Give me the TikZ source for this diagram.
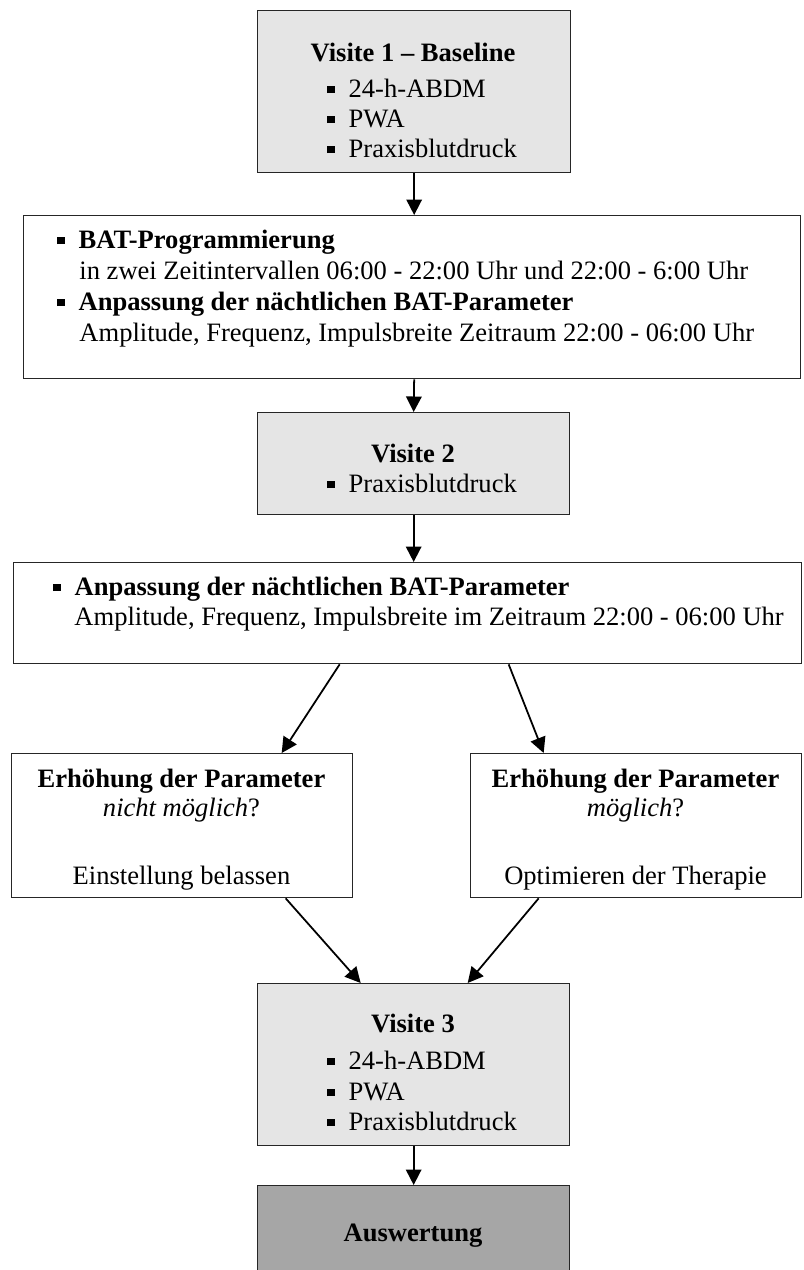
\documentclass[tikz,border=0pt]{standalone}
\usepackage{fontspec}
\setmainfont{Liberation Serif}
\usetikzlibrary{arrows.meta, calc, positioning}

% one picture unit = one pixel of the reference
\newcommand{\pxu}{0.452pt}
\newcommand{\sqbul}{\raisebox{1.8pt}{\rule{3.2pt}{3.2pt}}\hspace{6.4pt}}

\tikzset{
  box/.style={draw=black!85, line width=0.6pt, inner sep=0pt, anchor=north west},
  visit/.style={box, fill=black!10},
  final/.style={box, fill=black!35},
  lbl/.style={inner sep=0pt, anchor=base},
  item/.style={inner sep=0pt, anchor=base west},
  arr/.style={-{Triangle[length=7pt,width=7pt]}, line width=0.8pt},
  every node/.style={font=\fontsize{12}{13.6}\selectfont}
}

\begin{document}
\begin{tikzpicture}[x=\pxu, y=-\pxu]
\useasboundingbox (0,0) rectangle (803,1270);

% Boxes
\node[visit, minimum width=313*\pxu, minimum height=162*\pxu] (b1) at (257,10) {};
\node[box, minimum width=777*\pxu, minimum height=163*\pxu] (b2) at (23,215) {};
\node[visit, minimum width=312*\pxu, minimum height=102*\pxu] (b3) at (257,412) {};
\node[box, minimum width=788*\pxu, minimum height=101*\pxu] (b4) at (13,562) {};
\node[box, minimum width=341*\pxu, minimum height=144*\pxu] (b5) at (11,753) {};
\node[box, minimum width=331*\pxu, minimum height=144*\pxu] (b6) at (470,753) {};
\node[visit, minimum width=312*\pxu, minimum height=162*\pxu] (b7) at (257,983) {};
\node[final, minimum width=312*\pxu, minimum height=100*\pxu] (b8) at (257,1185) {};

% Visite 1
\node[lbl] (v1) at (413,62) {\textbf{Visite 1 – Baseline}};
\node[item] (v1a) at (327,97) {\sqbul 24-h-ABDM};
\node[item] (v1b) at (327,127) {\sqbul PWA};
\node[item] (v1c) at (327,157) {\sqbul Praxisblutdruck};

% Programmierung
\node[item] (p1) at (57,248) {\sqbul\textbf{BAT-Programmierung}};
\node[item] (p2) at (79,279) {in zwei Zeitintervallen 06:00 - 22:00 Uhr und 22:00 - 6:00 Uhr};
\node[item] (p3) at (57,310) {\sqbul\textbf{Anpassung der nächtlichen BAT-Parameter}};
\node[item] (p4) at (79,341) {Amplitude, Frequenz, Impulsbreite Zeitraum 22:00 - 06:00 Uhr};

% Visite 2
\node[lbl] (v2) at (413,462) {\textbf{Visite 2}};
\node[item] (v2a) at (327,492) {\sqbul Praxisblutdruck};

% Anpassung
\node[item] (a1) at (53,595) {\sqbul\textbf{Anpassung der nächtlichen BAT-Parameter}};
\node[item] (a2) at (74,625) {Amplitude, Frequenz, Impulsbreite im Zeitraum 22:00 - 06:00 Uhr};

% Entscheidung
\node[lbl] (e1) at (181.5,787) {\textbf{Erhöhung der Parameter}};
\node[lbl] (e2) at (181.5,816) {\textit{nicht möglich}?};
\node[lbl] (e3) at (181.5,884) {Einstellung belassen};
\node[lbl] (f1) at (635.5,787) {\textbf{Erhöhung der Parameter}};
\node[lbl] (f2) at (635.5,816) {\textit{möglich}?};
\node[lbl] (f3) at (635.5,884) {Optimieren der Therapie};

% Visite 3
\node[lbl] (v3) at (413,1032) {\textbf{Visite 3}};
\node[item] (v3a) at (327,1069) {\sqbul 24-h-ABDM};
\node[item] (v3b) at (327,1100) {\sqbul PWA};
\node[item] (v3c) at (327,1130) {\sqbul Praxisblutdruck};

% Auswertung
\node[lbl] (aw) at (413,1241) {\textbf{Auswertung}};

% Arrows
\draw[arr] (b1.south) -- (b1.south |- b2.north);
\draw[arr] (b2.south -| b1.south) -- (b3.north);
\draw[arr] (b3.south) -- (b3.south |- b4.north);
\draw[arr] ($(b4.south)+(-68,0)$) -- ($(b5.north)+(99.5,0)$);
\draw[arr] ($(b4.south)+(101,0)$) -- ($(b6.north)+(-92.5,0)$);
\draw[arr] ($(b5.south)+(103.5,0)$) -- ($(b7.north)+(-53,0)$);
\draw[arr] ($(b6.south)+(-97.5,0)$) -- ($(b7.north)+(54,0)$);
\draw[arr] (b7.south) -- (b8.north);
\end{tikzpicture}
\end{document}
